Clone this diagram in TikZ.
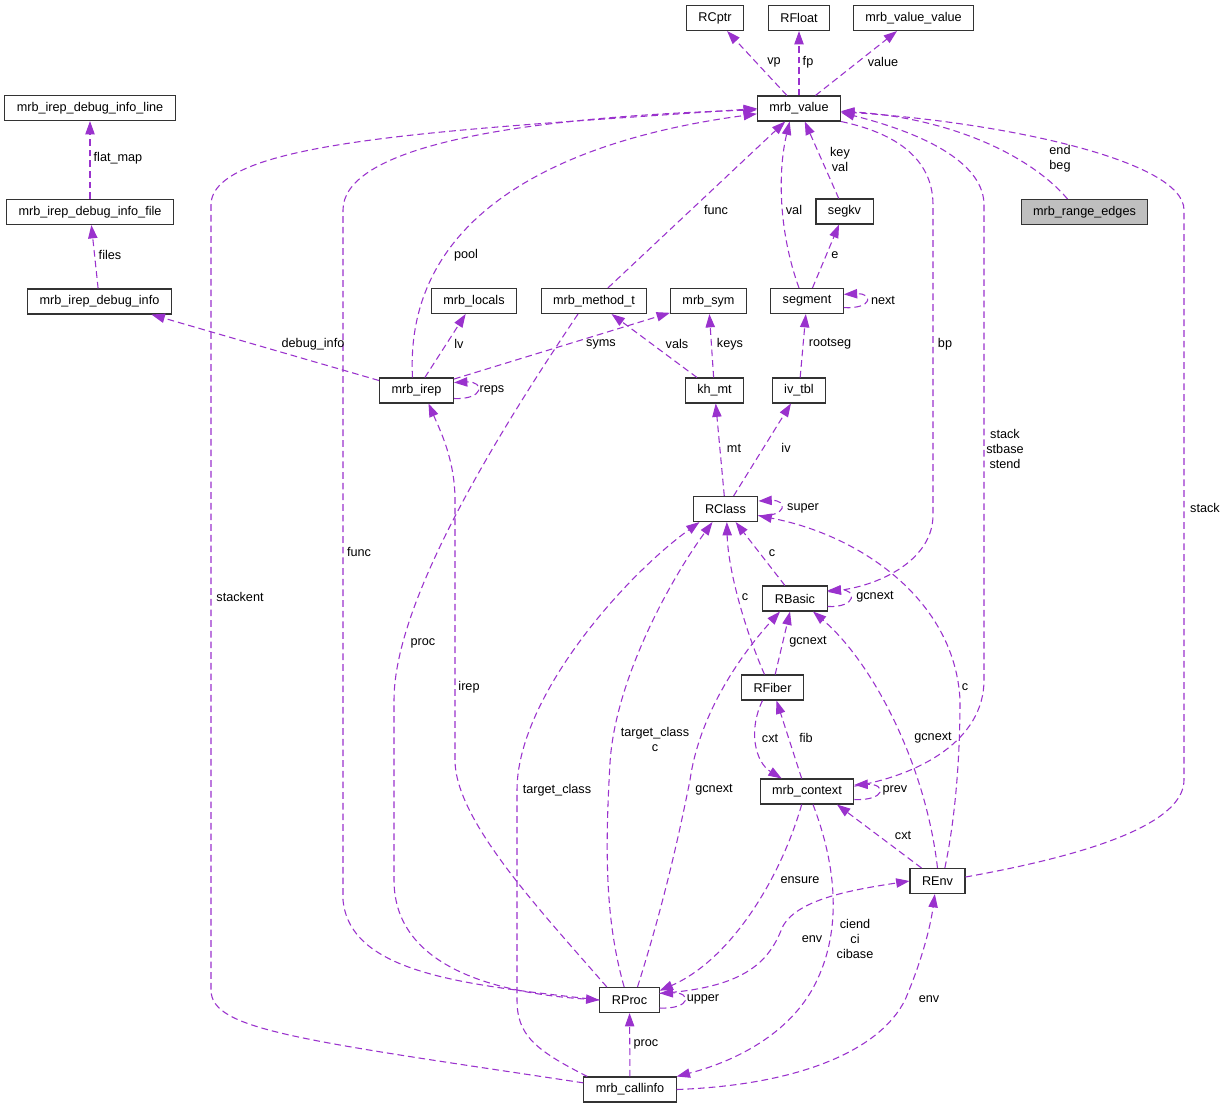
\documentclass[tikz,border=0pt]{standalone}
\usepackage{fontspec}
\newfontfamily\dxfont{Liberation Sans}
\usetikzlibrary{arrows.meta}
\definecolor{relcol}{HTML}{9A32CD}

\begin{document}
\begin{tikzpicture}[x=0.75pt, y=-0.75pt,
		structbox/.style={draw=black!80, line width=0.8pt, minimum height=18.75pt, inner xsep=9pt, inner ysep=1pt, font=\dxfont\fontsize{9.5}{11.25}\selectfont},
		rel/.style={draw=relcol, line width=0.8pt, dash pattern=on 5pt off 3pt, -{Triangle[length=10pt,width=7pt]}},
		lbl/.style={inner sep=0pt, align=center, font=\dxfont\fontsize{9.5}{11.25}\selectfont}]
		\useasboundingbox[fill=white] (0,0) rectangle (1227,1108);

		\node[structbox] (RCptr) at (715,18) {RCptr};
		\node[structbox] (RFloat) at (799,18) {RFloat};
		\node[structbox] (valvalue) at (913.5,18) {mrb\_value\_value};
		\node[structbox] (value) at (799,108.5) {mrb\_value};
		\node[structbox] (dbgline) at (90,108) {mrb\_irep\_debug\_info\_line};
		\node[structbox] (dbgfile) at (90,212) {mrb\_irep\_debug\_info\_file};
		\node[structbox, fill=black!25] (rangeedges) at (1084.5,212) {mrb\_range\_edges};
		\node[structbox] (segkv) at (844.5,211.5) {segkv};
		\node[structbox] (dbginfo) at (99.5,301.5) {mrb\_irep\_debug\_info};
		\node[structbox] (locals) at (474,301) {mrb\_locals};
		\node[structbox] (method) at (594,301) {mrb\_method\_t};
		\node[structbox] (sym) at (708.5,301) {mrb\_sym};
		\node[structbox] (segment) at (807,301) {segment};
		\node[structbox] (irep) at (416.5,390.5) {mrb\_irep};
		\node[structbox] (khmt) at (714.5,390.5) {kh\_mt};
		\node[structbox] (ivtbl) at (799,390.5) {iv\_tbl};
		\node[structbox] (RClass) at (725.5,509) {RClass};
		\node[structbox] (RBasic) at (795,598.5) {RBasic};
		\node[structbox] (RFiber) at (772.5,687.5) {RFiber};
		\node[structbox] (context) at (807,791.5) {mrb\_context};
		\node[structbox] (REnv) at (937.5,881) {REnv};
		\node[structbox] (RProc) at (629.5,1000) {RProc};
		\node[structbox] (callinfo) at (630,1089.5) {mrb\_callinfo};

		\draw[rel] (value) -- (RCptr);
		\draw[rel] (value) -- (RFloat);
		\draw[rel] (value) -- (valvalue);
		\draw[rel] ([xshift=-12.75pt]rangeedges.north) .. controls (1030,155) and (950,118) .. ([yshift=-2pt]value.east);
		\draw[rel] (value.south east) .. controls (905,135) and (933,165) .. (933,205) -- (933,515) .. controls (933,560) and (880,585) .. ([yshift=5pt]RBasic.east);
		\draw[rel] (segkv) -- (value);
		\draw[rel] ([xshift=-6pt]segment.north) .. controls (778,230) and (778,170) .. ([xshift=-7pt]value.south);
		\draw[rel] (segment) -- (segkv);
		\draw[rel] ([yshift=-5pt]segment.east) .. controls +(22pt,-1pt) and +(22pt,1pt) .. ([yshift=5pt]segment.east);
		\draw[rel] (ivtbl) -- (segment);
		\draw[rel] (khmt) -- (method);
		\draw[rel] (khmt) -- (sym);
		\draw[rel] (RClass) -- (khmt);
		\draw[rel] (RClass) -- (ivtbl);
		\draw[rel] ([yshift=-5pt]RClass.east) .. controls +(22pt,-1pt) and +(22pt,1pt) .. ([yshift=6pt]RClass.east);
		\draw[rel] (RBasic) -- (RClass);
		\draw[rel] ([yshift=-6pt]RBasic.east) .. controls +(22pt,-1pt) and +(22pt,1pt) .. ([yshift=6pt]RBasic.east);
		\draw[rel] ([xshift=-6pt]RFiber.north) .. controls (745,630) and (728,570) .. ([xshift=1pt]RClass.south);
		\draw[rel] ([xshift=2pt]RFiber.north) -- ([xshift=-3.75pt]RBasic.south);
		\draw[rel] ([xshift=-7.5pt]RFiber.south) .. controls (748,730) and (755,762) .. ([xshift=-19pt]context.north);
		\draw[rel] ([xshift=-4pt]context.north) -- ([xshift=3pt]RFiber.south);
		\draw[rel] ([yshift=-6pt]context.east) .. controls +(24pt,-1pt) and +(24pt,1pt) .. ([yshift=5pt]context.east);
		\draw[rel] ([yshift=4pt]context.east) .. controls (920,775) and (984,740) .. (984,680) -- (984,205) .. controls (984,165) and (930,135) .. ([yshift=-3pt]value.east);
		\draw[rel] ([xshift=-4pt]context.south) .. controls (780,880) and (730,960) .. ([yshift=7pt]RProc.east);
		\draw[rel] ([xshift=4.5pt]context.south) .. controls (838,870) and (840,930) .. (818,978) .. controls (795,1030) and (740,1060) .. (callinfo.north east);
		\draw[rel] ([yshift=3pt]REnv.east) .. controls (1060,860) and (1184,830) .. (1184,780) -- (1184,210) .. controls (1184,160) and (1000,122) .. ([yshift=-2.5pt]value.east);
		\draw[rel] ([xshift=-12pt]REnv.north) -- ([xshift=22.5pt]context.south);
		\draw[rel] ([xshift=5.5pt]REnv.north) .. controls (955,820) and (960,760) .. (960,700) .. controls (955,600) and (860,535) .. ([yshift=-5pt]RClass.east);
		\draw[rel] (REnv.north) .. controls (925,760) and (870,660) .. ([xshift=13.5pt]RBasic.south);
		\draw[rel] ([xshift=-17pt]RProc.north) .. controls (540,910) and (455,820) .. (455,760) -- (455,500) .. controls (455,460) and (440,430) .. ([xshift=9pt]irep.south);
		\draw[rel] (RProc.west) .. controls (470,985) and (350,975) .. (343,900) -- (343,210) .. controls (343,150) and (500,118) .. ([yshift=-1pt]value.west);
		\draw[rel] ([xshift=-4pt]RProc.north) .. controls (605,920) and (605,850) .. (610,763) .. controls (615,680) and (670,580) .. ([xshift=-9.75pt]RClass.south);
		\draw[rel] ([xshift=6pt]RProc.north) .. controls (665,900) and (680,830) .. (690,780) .. controls (700,710) and (745,650) .. ([xshift=-11.25pt]RBasic.south);
		\draw[rel] ([yshift=-6pt]RProc.east) .. controls +(24pt,-1pt) and +(24pt,1pt) .. ([yshift=5pt]RProc.east);
		\draw[rel] ([yshift=5pt]RProc.east) .. controls (740,988) and (768,965) .. (782,928) .. controls (795,900) and (850,890) .. (REnv.west);
		\draw[rel] (callinfo) -- (RProc);
		\draw[rel] ([yshift=5pt]callinfo.west) .. controls (300,1040) and (211,1030) .. (211,990) -- (211,205) .. controls (211,140) and (450,130) .. (value.west);
		\draw[rel] ([xshift=-32pt]callinfo.north) .. controls (535,1050) and (517,1035) .. (517,1000) -- (517,790) .. controls (517,700) and (620,580) .. ([xshift=-19.5pt]RClass.south);
		\draw[rel] (callinfo.east) .. controls (800,1085) and (880,1050) .. (905,1000) .. controls (920,965) and (930,930) .. ([xshift=-2pt]REnv.south);
		\draw[rel] ([xshift=-3pt]irep.north) .. controls (404,215) and (560,140) .. ([yshift=-4pt]value.west);
		\draw[rel] (irep) -- (sym);
		\draw[rel] ([yshift=-6pt]irep.east) .. controls +(23pt,-1pt) and +(23pt,1pt) .. ([yshift=6pt]irep.east);
		\draw[rel] (irep) -- (locals);
		\draw[rel] ([yshift=7.5pt]irep.west) -- ([xshift=39pt]dbginfo.south);
		\draw[rel] (method) -- (value);
		\draw[rel] ([xshift=-12pt]method.south) .. controls (500,430) and (394,600) .. (394,700) -- (394,880) .. controls (394,960) and (480,992) .. (RProc.west);
		\draw[rel] (dbginfo) -- (dbgfile);
		\draw[rel] (dbgfile) -- (dbgline);

		\node[lbl] (lvp) at (774,62) {vp};
		\node[lbl] (lfp) at (808,62) {fp};
		\node[lbl] (lvalue) at (883,62) {value};
		\node[lbl] (lendbeg) at (1060,159) {end\\beg};
		\node[lbl] (lkeyval) at (840,159) {key\\val};
		\node[lbl] (lfunc) at (716,210) {func};
		\node[lbl] (lval) at (794,210) {val};
		\node[lbl] (le) at (835,255) {e};
		\node[lbl] (lnext) at (883,300) {next};
		\node[lbl] (lpool) at (466,255) {pool};
		\node[lbl] (lflat) at (118,158) {flat\_map};
		\node[lbl] (lfiles) at (110,255) {files};
		\node[lbl] (ldebug) at (313,344) {debug\_info};
		\node[lbl] (llv) at (459,344) {lv};
		\node[lbl] (lsyms) at (601,344) {syms};
		\node[lbl] (lvals) at (677,344) {vals};
		\node[lbl] (lkeys) at (730,344) {keys};
		\node[lbl] (lroot) at (830,344) {rootseg};
		\node[lbl] (lreps) at (492,390) {reps};
		\node[lbl] (lbp) at (945,344) {bp};
		\node[lbl] (lmt) at (734,448) {mt};
		\node[lbl] (liv) at (786,448) {iv};
		\node[lbl] (lstack) at (1005,449) {stack\\stbase\\stend};
		\node[lbl] (lsuper) at (803,508) {super};
		\node[lbl] (lstackenv) at (1205,508) {stack};
		\node[lbl] (lfuncproc) at (359,552) {func};
		\node[lbl] (lstackent) at (240,597) {stackent};
		\node[lbl] (lcbasic) at (772,553) {c};
		\node[lbl] (lgcbasic) at (875,597) {gcnext};
		\node[lbl] (lcfiber) at (745,597) {c};
		\node[lbl] (lproc) at (423,643) {proc};
		\node[lbl] (lirep) at (469,687) {irep};
		\node[lbl] (lgcfiber) at (808,642) {gcnext};
		\node[lbl] (lcenv) at (965,687) {c};
		\node[lbl] (ltcc) at (655,739) {target\_class\\c};
		\node[lbl] (lcxt) at (770,738) {cxt};
		\node[lbl] (lfib) at (806,738) {fib};
		\node[lbl] (lgcenv) at (933,738) {gcnext};
		\node[lbl] (ltc) at (557,790) {target\_class};
		\node[lbl] (lgcproc) at (714,790) {gcnext};
		\node[lbl] (lprev) at (895,790) {prev};
		\node[lbl] (lcxtenv) at (903,835) {cxt};
		\node[lbl] (lensure) at (800,880) {ensure};
		\node[lbl] (lci) at (855,939) {ciend\\ci\\cibase};
		\node[lbl] (lenvproc) at (812,939) {env};
		\node[lbl] (lupper) at (703,999) {upper};
		\node[lbl] (lenvci) at (929,999) {env};
		\node[lbl] (lprocci) at (646,1044) {proc};
	\end{tikzpicture}
\end{document}
